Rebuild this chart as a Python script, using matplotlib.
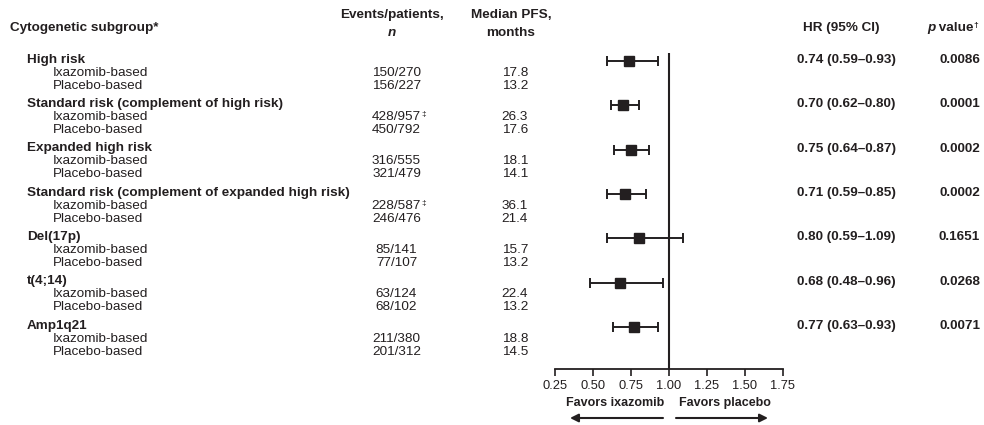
import numpy as np
import matplotlib
matplotlib.use('Agg')
import matplotlib.pyplot as plt

plt.rcParams['font.family'] = ['Liberation Sans', 'DejaVu Sans']

groups = ['High risk', 'Standard risk (complement of high risk)', 'Expanded high risk',
          'Standard risk (complement of expanded high risk)', 'Del(17p)', 't(4;14)', 'Amp1q21']
ixa_events = ['150/270', '428/957', '316/555', '228/587', '85/141', '63/124', '211/380']
pbo_events = ['156/227', '450/792', '321/479', '246/476', '77/107', '68/102', '201/312']
ixa_flag = ['', '‡', '', '‡', '', '', '']
ixa_pfs = ['17.8', '26.3', '18.1', '36.1', '15.7', '22.4', '18.8']
pbo_pfs = ['13.2', '17.6', '14.1', '21.4', '13.2', '13.2', '14.5']
hr = np.array([0.74, 0.70, 0.75, 0.71, 0.80, 0.68, 0.77])
hr_lo = np.array([0.59, 0.62, 0.64, 0.59, 0.59, 0.48, 0.63])
hr_hi = np.array([0.93, 0.80, 0.87, 0.85, 1.09, 0.96, 0.93])
pvals = ['0.0086', '0.0001', '0.0002', '0.0002', '0.1651', '0.0268', '0.0071']
xticks = [0.25, 0.50, 0.75, 1.00, 1.25, 1.50, 1.75]

ink = '#231f20'
fs = 9.7

fig = plt.figure(figsize=(9.84, 4.25), dpi=100)

# background axes in pixel units (y from top) for all the table text
bg = fig.add_axes([0, 0, 1, 1])
bg.set_xlim(0, 984)
bg.set_ylim(425, 0)
bg.axis('off')

# forest axes, y shares the same pixel units
top, bottom = 53, 369
ax = fig.add_axes([555 / 984, (425 - bottom) / 425, 228 / 984, (bottom - top) / 425])
ax.set_xlim(0.25, 1.75)
ax.set_ylim(bottom, top)
for s in ['top', 'left', 'right']:
    ax.spines[s].set_visible(False)
ax.spines['bottom'].set_linewidth(1.3)
ax.spines['bottom'].set_color(ink)
ax.set_yticks([])
ax.set_xticks(xticks)
ax.set_xticklabels(['%.2f' % t for t in xticks], fontsize=9.3, color=ink)
ax.tick_params(axis='x', direction='out', length=5, width=1.2, color=ink, pad=3)
ax.patch.set_alpha(0)
ax.axvline(1.0, color=ink, lw=1.5)

gy = 61 + 44.35 * np.arange(len(groups))

ax.errorbar(hr, gy, xerr=[hr - hr_lo, hr_hi - hr], fmt='s', color=ink, ms=7.5,
            elinewidth=1.4, capsize=3.3, capthick=1.4)

# headers
bg.text(10, 28, 'Cytogenetic subgroup*', fontsize=fs, fontweight='bold', color=ink, va='center')
bg.text(392, 15, 'Events/patients,', fontsize=fs, fontweight='bold', color=ink, ha='center', va='center')
bg.text(392, 33, 'n', fontsize=fs, fontweight='bold', style='italic', color=ink, ha='center', va='center')
bg.text(511, 15, 'Median PFS,', fontsize=fs, fontweight='bold', color=ink, ha='center', va='center')
bg.text(511, 33, 'months', fontsize=fs, fontweight='bold', color=ink, ha='center', va='center')
bg.text(841, 28, 'HR (95% CI)', fontsize=fs, fontweight='bold', color=ink, ha='center', va='center')
p = bg.text(927, 28, 'p', fontsize=fs, fontweight='bold', style='italic', color=ink, va='center')
pv = bg.annotate(' value', xy=(1, 0), xycoords=p, fontsize=fs, fontweight='bold', color=ink,
                 va='bottom')
bg.annotate('†', xy=(1, 1), xycoords=pv, fontsize=6, fontweight='bold', color=ink, va='top')

for i, g in enumerate(groups):
    y = gy[i]
    bg.text(27, y - 1.5, g, fontsize=fs, fontweight='bold', color=ink, va='center')
    bg.text(53, y + 11.5, 'Ixazomib-based', fontsize=fs, color=ink, va='center')
    bg.text(53, y + 24.5, 'Placebo-based', fontsize=fs, color=ink, va='center')
    t = bg.text(396.5, y + 11.5, ixa_events[i], fontsize=fs, color=ink, ha='center', va='center')
    if ixa_flag[i]:
        bg.annotate(ixa_flag[i], xy=(1, 1), xycoords=t, fontsize=6, color=ink, va='top')
    bg.text(396.5, y + 24.5, pbo_events[i], fontsize=fs, color=ink, ha='center', va='center')
    bg.text(515, y + 11.5, ixa_pfs[i], fontsize=fs, color=ink, ha='center', va='center')
    bg.text(515, y + 24.5, pbo_pfs[i], fontsize=fs, color=ink, ha='center', va='center')
    bg.text(797, y - 1, '%.2f (%.2f–%.2f)' % (hr[i], hr_lo[i], hr_hi[i]), fontsize=fs,
            fontweight='bold', color=ink, va='center')
    bg.text(980, y - 1, pvals[i], fontsize=fs, fontweight='bold', color=ink, ha='right', va='center')

# favors labels and arrows
bg.text(615, 403, 'Favors ixazomib', fontsize=9, fontweight='bold', color=ink, ha='center', va='center')
bg.text(725, 403, 'Favors placebo', fontsize=9, fontweight='bold', color=ink, ha='center', va='center')
arrow = dict(arrowstyle='-|>', lw=1.5, color=ink, mutation_scale=12, shrinkA=0, shrinkB=0)
bg.annotate('', xy=(570, 418), xytext=(663, 418), arrowprops=arrow)
bg.annotate('', xy=(768, 418), xytext=(676, 418), arrowprops=arrow)

fig.savefig('out.png', dpi=100)
